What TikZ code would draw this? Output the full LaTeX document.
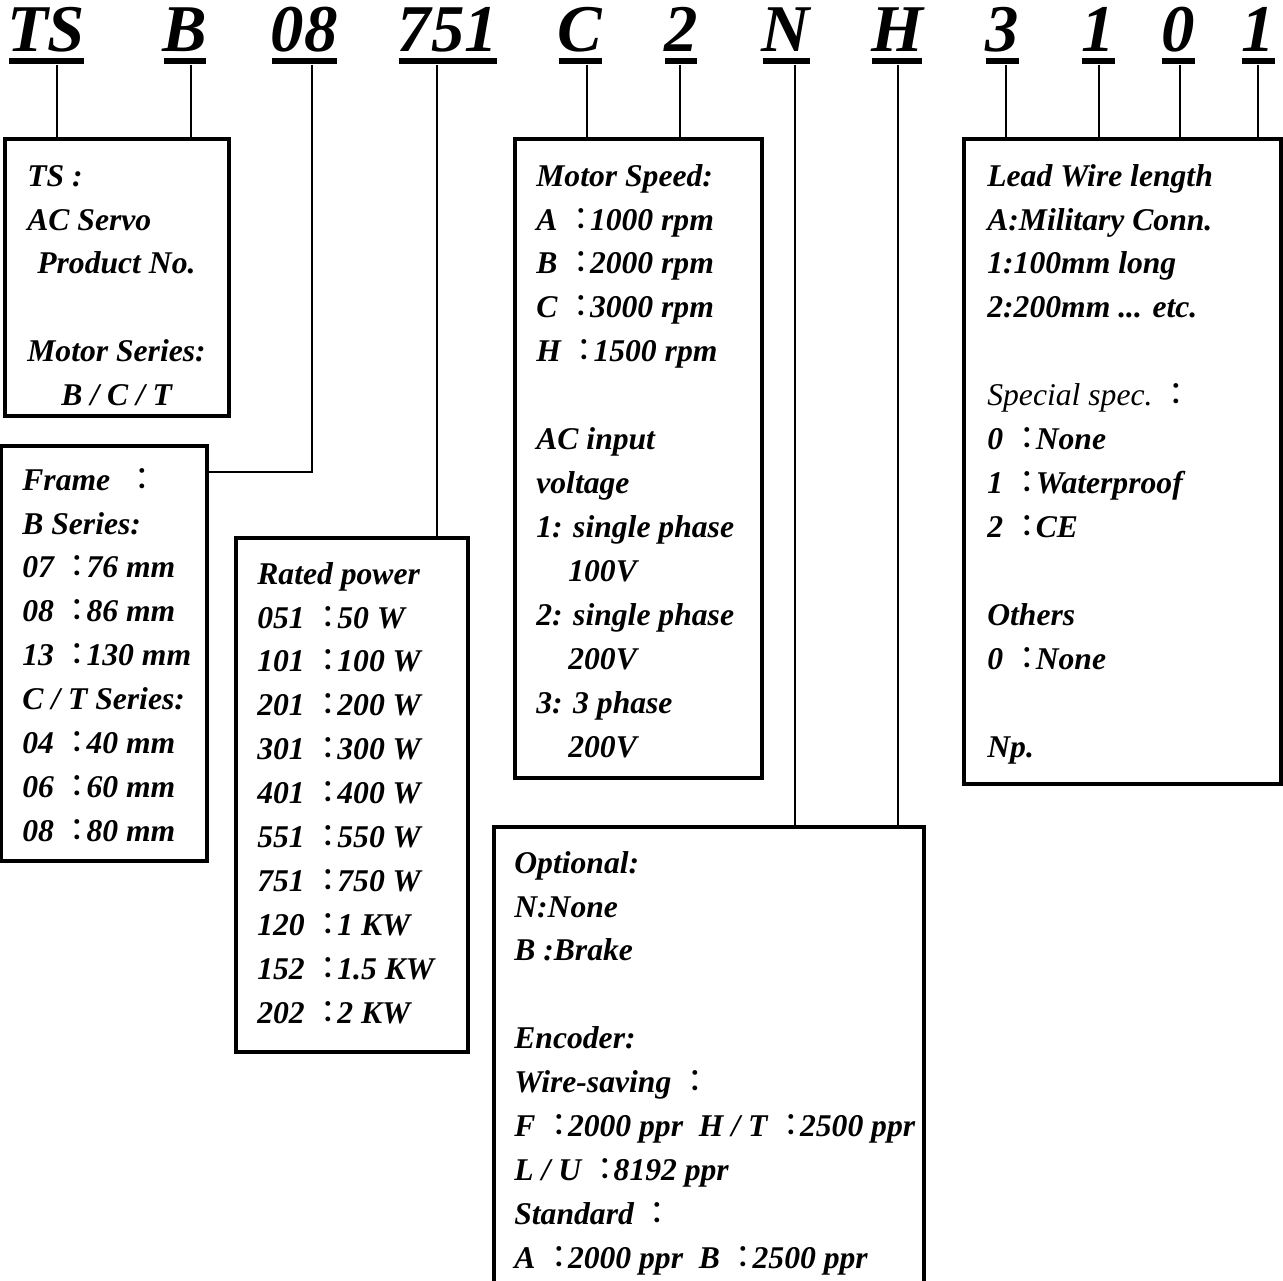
\documentclass[tikz,border=0pt]{standalone}
\usepackage{fontspec}
\setmainfont{Liberation Serif}
\newfontfamily\cjk{Noto Sans CJK TC}
\usetikzlibrary{fit,calc}
\newcommand{\fc}{{\cjk\mdseries ：}\kern-.22em}

\tikzset{
  hdr/.style={font=\fontsize{38}{38}\selectfont\bfseries\itshape, inner sep=0pt, anchor=base},
  ubar/.style={fill=black, inner sep=0pt, minimum height=1.3mm},
  frame/.style={draw, line width=2pt, inner sep=0pt},
  spec/.style={font=\fontsize{18}{25}\selectfont\bfseries\itshape, align=left, inner sep=0pt, anchor=north west},
  stem/.style={line width=1.6pt}
}

\begin{document}
\begin{tikzpicture}[x=0.2mm, y=-0.2mm]
\useasboundingbox (0,0) rectangle (1283,1281);
\clip (0,0) rectangle (1283,1281);

% code letters, each underlined
\foreach \nm/\tx/\cx/\w in {TS/TS/46/75, B/B/185/42, fr/08/304/65, pw/751/448/98, sp/C/580/43, vo/2/681/32, op/N/786/47, en/H/897/50, le/3/1002/33, sa/1/1098/33, ot/0/1178/33, np/1/1258/33}{
  \node[hdr] (h\nm) at (\cx,52) {\tx};
  \node[ubar, minimum width=\w*0.2mm] (u\nm) at (\cx,61) {};
}

% boxes
\node[frame, fit={(5,139) (229,416)}] (bTS) {};
\node[frame, fit={(1,446) (207,861)}] (bFr) {};
\node[frame, fit={(236,538) (468,1052)}] (bPw) {};
\node[frame, fit={(515,139) (762,778)}] (bSp) {};
\node[frame, fit={(494,827) (924,1300)}] (bOp) {};
\node[frame, fit={(964,139) (1281,784)}] (bLe) {};

% box texts (first baseline = top + 31)
\node[spec] (tTS) at (27,155) {\strut TS :\\AC Servo\\\hspace*{2mm}Product No.\\~\\Motor Series:\\\hspace*{6.8mm}B / C / T};
\node[spec] (tFr) at (22,459) {\strut Frame~ \fc\\B Series:\\07 \fc 76 mm\\08 \fc 86 mm\\13 \fc 130 mm\\C / T Series:\\04 \fc 40 mm\\06 \fc 60 mm\\08 \fc 80 mm};
\node[spec] (tPw) at (257,553) {\strut Rated power\\051 \fc 50 W\\101 \fc 100 W\\201 \fc 200 W\\301 \fc 300 W\\401 \fc 400 W\\551 \fc 550 W\\751 \fc 750 W\\120 \fc 1 KW\\152 \fc 1.5 KW\\202 \fc 2 KW};
\node[spec] (tSp) at (536,155) {\strut Motor Speed:\\A \fc 1000 rpm\\B \fc 2000 rpm\\C \fc 3000 rpm\\H \fc 1500 rpm\\~\\AC input\\voltage\\1: single phase\\\hspace*{6.4mm}100V\\2: single phase\\\hspace*{6.4mm}200V\\3: 3 phase\\\hspace*{6.4mm}200V};
\node[spec] (tLe) at (987,155) {\strut Lead Wire length\\A:Military Conn.\\1:100mm long\\2:200mm ... etc.\\~\\{\mdseries Special spec.~\fc}\\0 \fc None\\1 \fc Waterproof\\2 \fc CE\\~\\Others\\0 \fc None\\~\\Np.};
\node[spec] (tOp) at (514,842) {\strut Optional:\\N:None\\B :Brake\\~\\Encoder:\\Wire-saving \fc\\F \fc 2000 ppr~ H / T \fc 2500 ppr\\L / U \fc 8192 ppr\\Standard \fc\\A \fc 2000 ppr~ B \fc 2500 ppr};

% stems
\foreach \nm/\sx/\bx in {TS/57/bTS, B/191/bTS, pw/437/bPw, sp/587/bSp, vo/680/bSp, op/795/bOp, en/898/bOp, le/1006/bLe, sa/1099/bLe, ot/1180/bLe, np/1258/bLe}
  \draw[stem] (\sx,0 |- u\nm.south) -- (\sx,0 |- \bx.north);
\draw[stem] (312,0 |- ufr.south) |- (bFr.east |- 0,472);
\end{tikzpicture}
\end{document}
